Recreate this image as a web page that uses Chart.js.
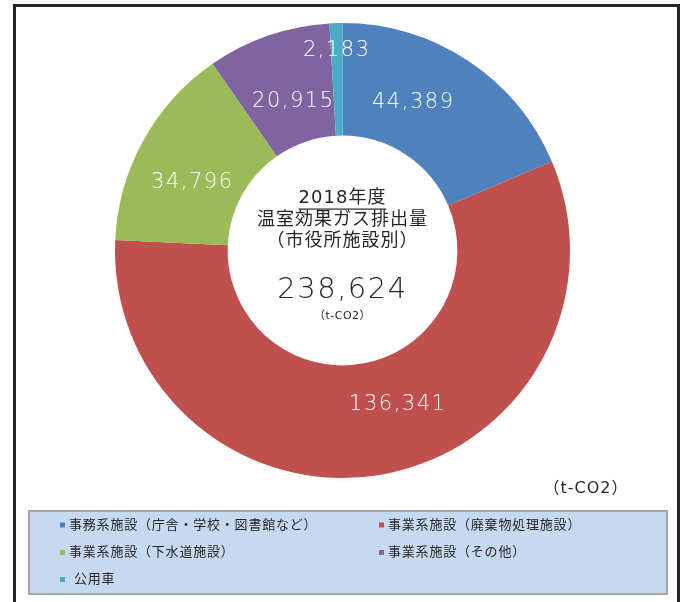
<!DOCTYPE html>
<html><head><meta charset="utf-8">
<script src="https://cdn.jsdelivr.net/npm/chart.js@4.4.0/dist/chart.umd.min.js"></script>
<style>html,body{margin:0;padding:0;background:#fff}canvas{display:block}</style>
</head><body>
<canvas id="c" width="684" height="602"></canvas>
<script>
const categories = ['事務系施設（庁舎・学校・図書館など）','事業系施設（廃棄物処理施設）','事業系施設（下水道施設）','事業系施設（その他）','公用車'];
const emissions = [44389, 136341, 34796, 20915, 2183];
const centerTitle = ['2018年度', '温室効果ガス排出量', '（市役所施設別）'];
const unitText = '（t-CO2）';
const colors = ['#4f81bd', '#c0504d', '#9bbb59', '#8064a2', '#4bacc6'];

const NUM_FONT = "'DejaVu Sans', 'Noto Sans CJK JP', sans-serif";
const JP_FONT = "'DejaVu Sans', 'Noto Sans CJK JP', sans-serif";
const fmt = v => v.toLocaleString('en-US');

const labelPlugin = {
  id: 'valueLabels',
  afterDatasetsDraw(chart, args, opts) {
    const ctx = chart.ctx;
    const meta = chart.getDatasetMeta(0);
    ctx.save();
    ctx.fillStyle = '#ffffff';
    ctx.font = '300 21px ' + NUM_FONT;
    ctx.letterSpacing = '1.5px';
    ctx.textAlign = 'center';
    ctx.textBaseline = 'middle';
    meta.data.forEach((arc, i) => {
      const p = arc.getProps(['x','y','startAngle','endAngle','innerRadius','outerRadius'], true);
      const a = (p.startAngle + p.endAngle) / 2 + opts.angleShift[i] * Math.PI / 180;
      const r = p.innerRadius + (p.outerRadius - p.innerRadius) * opts.radial[i];
      ctx.fillText(fmt(emissions[i]), p.x + r * Math.cos(a), p.y + r * Math.sin(a));
    });
    // centre text
    const p0 = meta.data[0];
    const cx = p0.x, cy = p0.y;
    ctx.fillStyle = '#262626';
    ctx.font = '18px ' + JP_FONT;
    ctx.letterSpacing = '1px';
    ctx.fillText(centerTitle[0], cx, cy - 52);
    const w0 = ctx.measureText(centerTitle[0]).width;
    ctx.fillRect(cx - w0 / 2, cy - 42, w0, 1.2);
    ctx.fillText(centerTitle[1], cx, cy - 30);
    ctx.fillText(centerTitle[2], cx, cy - 9);
    const total = emissions.reduce((s, v) => s + v, 0);
    ctx.font = '300 29px ' + NUM_FONT;
    ctx.letterSpacing = '1.5px';
    ctx.fillText(fmt(total), cx, cy + 40);
    ctx.font = '11px ' + JP_FONT;
    ctx.letterSpacing = '0.5px';
    ctx.fillText(unitText, cx, cy + 66);
    ctx.restore();
  }
};

const framePlugin = {
  id: 'frameLegend',
  afterDraw(chart) {
    const ctx = chart.ctx;
    ctx.save();
    // outer frame
    ctx.strokeStyle = '#262626';
    ctx.lineWidth = 3;
    ctx.strokeRect(14.5, 5.5, 664, 700);
    // unit note
    ctx.fillStyle = '#262626';
    ctx.font = '16px ' + JP_FONT;
    ctx.letterSpacing = '1px';
    ctx.textAlign = 'center';
    ctx.textBaseline = 'middle';
    ctx.fillText(unitText, 586, 489);
    // legend box
    ctx.fillStyle = '#c6d9f1';
    ctx.fillRect(29, 511, 638, 83);
    ctx.strokeStyle = '#a6a6a6';
    ctx.lineWidth = 2;
    ctx.strokeRect(29, 511, 638, 83);
    ctx.font = '13px ' + JP_FONT;
    ctx.letterSpacing = '0.8px';
    ctx.textAlign = 'left';
    const colX = [60, 379];
    const rowY = [525.5, 553, 580];
    categories.forEach((lab, i) => {
      const x = colX[i % 2], y = rowY[Math.floor(i / 2)];
      ctx.fillStyle = colors[i];
      ctx.fillRect(x, y - 3, 5, 5);
      ctx.fillStyle = '#262626';
      ctx.fillText(lab, x + (i === 4 ? 14 : 9), y);
    });
    ctx.restore();
  }
};

new Chart(document.getElementById('c'), {
  type: 'doughnut',
  data: {
    labels: categories,
    datasets: [{
      data: emissions,
      backgroundColor: colors,
      borderWidth: 0,
      hoverOffset: 0
    }]
  },
  options: {
    responsive: false,
    animation: false,
    devicePixelRatio: 1,
    events: [],
    cutout: '50.5%',
    layout: { padding: { top: 23, bottom: 124, left: 1, right: 0 } },
    plugins: {
      legend: { display: false },
      tooltip: { enabled: false },
      valueLabels: {
        angleShift: [-8, -9.5, -4.5, 0.8, 0],
        radial: [0.44, 0.436, 0.444, 0.373, 0.756]
      }
    }
  },
  plugins: [labelPlugin, framePlugin]
});
</script>
</body></html>
